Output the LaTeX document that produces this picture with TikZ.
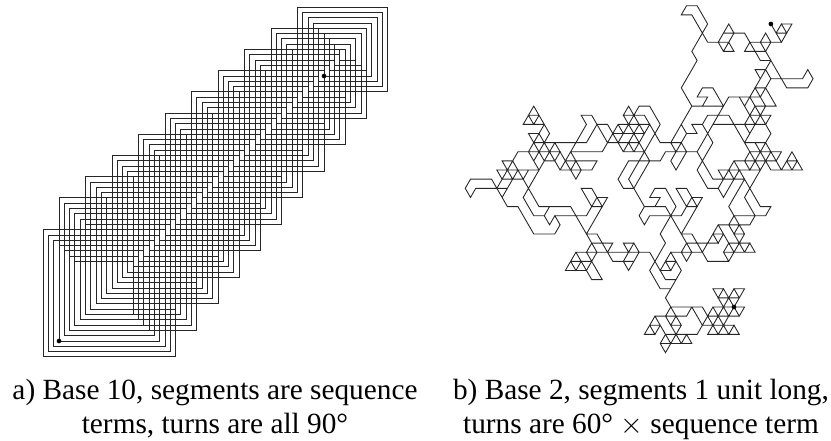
\documentclass[tikz,border=0pt]{standalone}
\usepackage{fontspec}
\setmainfont{Liberation Serif}
\newcount\dsn \newcount\dsv \newcount\dst \newcount\dsh
\newcommand{\digsum}[2]{\dsn=#1 \dsv=0 \loop\ifnum\dsn>0 \dst=\dsn \divide\dst by #2 \advance\dsv by \dsn \multiply\dst by #2 \advance\dsv by -\dst \divide\dst by #2 \dsn=\dst \repeat}
\tikzset{walkline/.style={line width=0.75pt,black!85,line join=miter},
  walkdot/.style={circle,fill=black,inner sep=0pt,minimum size=4pt},
  caption/.style={font=\fontsize{25}{29}\selectfont,align=center}}
\begin{document}
\begin{tikzpicture}[x=0.03cm,y=-0.03cm]
\useasboundingbox (0,0) rectangle (831,440);
% Base 10 walk
\gdef\walk{}
\foreach \n in {0,...,999}{
  \digsum{\n}{10}
  \dst=\n \divide\dst by 4 \multiply\dst by 4 \dsh=\n \advance\dsh by -\dst
  \pgfmathsetmacro{\len}{\the\dsv*5.3}
  \ifcase\dsh \xdef\walk{\walk -- ++(\len,0)}\or \xdef\walk{\walk -- ++(0,-\len)}\or \xdef\walk{\walk -- ++(-\len,0)}\or \xdef\walk{\walk -- ++(0,\len)}\fi
}
\coordinate (starta) at (324,76);
\draw[walkline] (starta) \walk coordinate (enda);
\node[walkdot] (dotastart) at (starta) {};
\node[walkdot] (dotaend) at (enda) {};
% Base 2 walk
\gdef\walk{}
\global\dsh=0
\foreach \n in {1,...,1023}{
  \digsum{\n}{2}
  \global\advance\dsh by \dsv
  \dst=\dsh \divide\dst by 6 \multiply\dst by 6 \advance\dst by -\dsh \multiply\dst by -1
  \ifcase\dst \xdef\walk{\walk -- ++(10.54,0)}\or \xdef\walk{\walk -- ++(5.27,-9.13)}\or \xdef\walk{\walk -- ++(-5.27,-9.13)}\or \xdef\walk{\walk -- ++(-10.54,0)}\or \xdef\walk{\walk -- ++(-5.27,9.13)}\or \xdef\walk{\walk -- ++(5.27,9.13)}\fi
}
\coordinate (startb) at (734,307);
\draw[walkline] (startb) \walk coordinate (endb);
\node[walkdot] (dotbstart) at (startb) {};
\node[walkdot] (dotbend) at (endb) {};
% Captions
\node[caption] (capa) at (215,409) {a) Base 10, segments are sequence\\terms, turns are all 90°};
\node[caption] (capb) at (641,409) {b) Base 2, segments 1 unit long,\\turns are 60° $\times$ sequence term};
\end{tikzpicture}
\end{document}
